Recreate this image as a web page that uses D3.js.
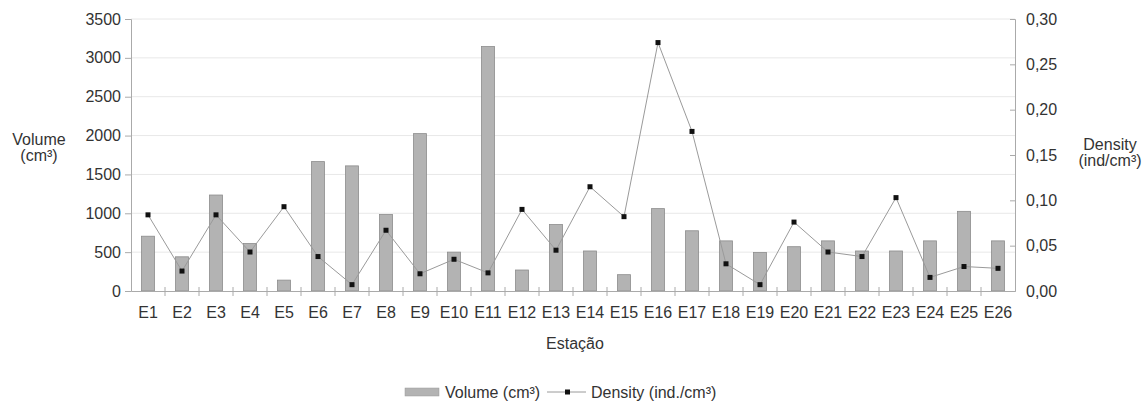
<!DOCTYPE html>
<html><head><meta charset="utf-8">
<script src="https://cdn.jsdelivr.net/npm/d3@7"></script>
<style>body{margin:0;background:#fff}text{font-family:"Liberation Sans",Arial,sans-serif;fill:#333}</style>
</head><body><svg id="c" width="1146" height="402"></svg>
<script>
const categories = ["E1","E2","E3","E4","E5","E6","E7","E8","E9","E10","E11","E12","E13","E14","E15","E16","E17","E18","E19","E20","E21","E22","E23","E24","E25","E26"];
const volume = [705,440,1235,610,140,1665,1610,985,2025,500,3145,270,855,515,210,1060,775,645,495,570,645,515,515,645,1025,645];
const density = [0.084,0.022,0.084,0.043,0.093,0.038,0.007,0.067,0.019,0.035,0.020,0.090,0.045,0.115,0.082,0.274,0.176,0.030,0.007,0.076,0.043,0.038,0.103,0.015,0.027,0.025];
const leftTicks = [0,500,1000,1500,2000,2500,3000,3500];
const rightTicks = [0,0.05,0.10,0.15,0.20,0.25,0.30];

const svg = d3.select("#c");
const L = 131, R = 1015, T = 19, B = 291;
const xb = d3.scaleBand().domain(categories).range([L, R]);
const y = d3.scaleLinear().domain([0,3500]).range([B, T]);
const y2 = d3.scaleLinear().domain([0,0.30]).range([B, T]);
const FONT = "Liberation Sans, Arial, sans-serif";

// grid
svg.append("g").selectAll("line").data(leftTicks.slice(1)).join("line")
  .attr("x1", L).attr("x2", R).attr("y1", d=>y(d)).attr("y2", d=>y(d))
  .attr("stroke", "#e8e8e8").attr("stroke-width", 1);

// bars
svg.append("g").selectAll("rect").data(volume).join("rect")
  .attr("x", (d,i)=>xb(categories[i]) + xb.bandwidth()/2 - 6.5)
  .attr("width", 13)
  .attr("y", d=>y(d)).attr("height", d=>B - y(d))
  .attr("fill", "#b3b3b3").attr("stroke", "#8c8c8c").attr("stroke-width", 0.8);

// left axis
const ga = svg.append("g").attr("transform", `translate(${L},0)`)
  .call(d3.axisLeft(y).tickValues(leftTicks).tickSize(6).tickPadding(4).tickFormat(d3.format("d")));
ga.select(".domain").attr("stroke", "#aaa");
ga.selectAll(".tick line").attr("stroke", "#aaa");
ga.selectAll(".tick text").style("font-size", "16px").attr("font-family", FONT);

// right axis (ticks inward)
const fmt = d => d3.format(".2f")(d).replace(".", ",");
const gr = svg.append("g").attr("transform", `translate(${R},0)`)
  .call(d3.axisRight(y2).tickValues(rightTicks).tickSize(-5).tickPadding(11).tickFormat(fmt));
gr.select(".domain").attr("stroke", "#aaa");
gr.selectAll(".tick line").attr("stroke", "#aaa");
gr.selectAll(".tick text").style("font-size", "16px").attr("font-family", FONT);

// x axis
const gx = svg.append("g").attr("transform", `translate(0,${B})`)
  .call(d3.axisBottom(xb).tickSize(0).tickPadding(16));
gx.select(".domain").attr("stroke", "#aaa");
gx.selectAll(".tick text").style("font-size", "16px").attr("font-family", FONT);
svg.append("g").selectAll("line").data(categories.slice(1)).join("line")
  .attr("x1", d=>xb(d)).attr("x2", d=>xb(d)).attr("y1", B-4).attr("y2", B+5)
  .attr("stroke", "#aaa");

// density line
const line = d3.line().x((d,i)=>xb(categories[i]) + xb.bandwidth()/2).y(d=>y2(d));
svg.append("path").datum(density).attr("d", line).attr("fill","none").attr("stroke","#9a9a9a").attr("stroke-width",1);
svg.append("g").selectAll("rect").data(density).join("rect")
  .attr("x", (d,i)=>xb(categories[i]) + xb.bandwidth()/2 - 2.5).attr("y", d=>y2(d)-2.5)
  .attr("width",5).attr("height",5).attr("fill","#111");

// titles
const t1 = svg.append("text").attr("text-anchor","middle").style("font-size","16px");
t1.append("tspan").attr("x",39).attr("y",145).text("Volume");
t1.append("tspan").attr("x",39).attr("y",161).text("(cm³)");
const t2 = svg.append("text").attr("text-anchor","middle").style("font-size","16px");
t2.append("tspan").attr("x",1110).attr("y",150).text("Density");
t2.append("tspan").attr("x",1110).attr("y",166).text("(ind/cm³)");
svg.append("text").attr("x",575).attr("y",349).attr("text-anchor","middle").style("font-size","16px").text("Estação");

// legend
const lg = svg.append("g");
lg.append("rect").attr("x",405).attr("y",388).attr("width",34).attr("height",8).attr("fill","#b3b3b3").attr("stroke","#9a9a9a").attr("stroke-width",0.5);
lg.append("text").attr("x",445).attr("y",398).style("font-size","16px").text("Volume (cm³)");
lg.append("line").attr("x1",547).attr("x2",586).attr("y1",392).attr("y2",392).attr("stroke","#9a9a9a");
lg.append("rect").attr("x",565).attr("y",389.5).attr("width",5).attr("height",5).attr("fill","#111");
lg.append("text").attr("x",591).attr("y",398).style("font-size","16px").text("Density (ind./cm³)");
</script></body></html>
